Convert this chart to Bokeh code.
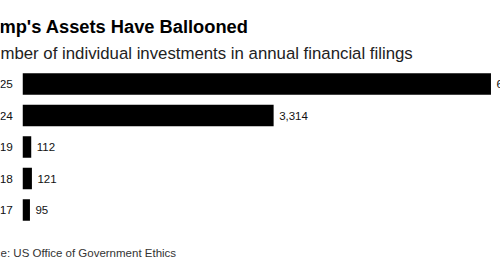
from bokeh.plotting import figure
from bokeh.models import Range1d, Label, ColumnDataSource
from bokeh.core.properties import value
from bokeh.embed import file_html
from bokeh.resources import INLINE

years = ["2025", "2024", "2019", "2018", "2017"]
counts = [6185, 3314, 112, 121, 95]
count_labels = ["6,185", "3,314", "112", "121", "95"]
title = "Trump's Assets Have Ballooned"
subtitle = "Number of individual investments in annual financial filings"
source_note = "Source: US Office of Government Ethics"

FONT = "Liberation Sans"

pos = [-i for i in range(len(years))]
src = ColumnDataSource(dict(y=pos, v=counts, yl=years, vl=count_labels))

p = figure(width=500, height=260, output_backend="svg", toolbar_location=None,
           x_range=Range1d(-294, 6311), y_range=Range1d(-5.603, 2.651),
           min_border=0, outline_line_color=None)
p.axis.visible = False
p.grid.visible = False
p.background_fill_color = "white"
p.border_fill_color = "white"

p.hbar(y="y", left=0, right="v", height=0.686, source=src,
       fill_color="#000000", line_color=None)

p.text(x=0, y="y", text="yl", source=src, x_offset=-10, text_align="right",
       text_baseline="middle", text_font=value(FONT), text_font_size="11.8px",
       text_color="#111111")
p.text(x="v", y="y", text="vl", source=src, x_offset=5.5, text_align="left",
       text_baseline="middle", text_font=value(FONT), text_font_size="11.5px",
       text_color="#111111")

p.add_layout(Label(x=-29.5, y=234.5, x_units="screen", y_units="screen", text=title,
                   text_font=FONT, text_font_size="18.3px", text_font_style="bold",
                   text_color="#000000", text_baseline="alphabetic"))
p.add_layout(Label(x=-21.5, y=207.5, x_units="screen", y_units="screen", text=subtitle,
                   text_font=FONT, text_font_size="16.8px",
                   text_color="#222222", text_baseline="alphabetic"))
p.add_layout(Label(x=-30, y=7.5, x_units="screen", y_units="screen", text=source_note,
                   text_font=FONT, text_font_size="11.5px",
                   text_color="#333333", text_baseline="alphabetic"))

open("out.html", "w").write(file_html(p, INLINE))
